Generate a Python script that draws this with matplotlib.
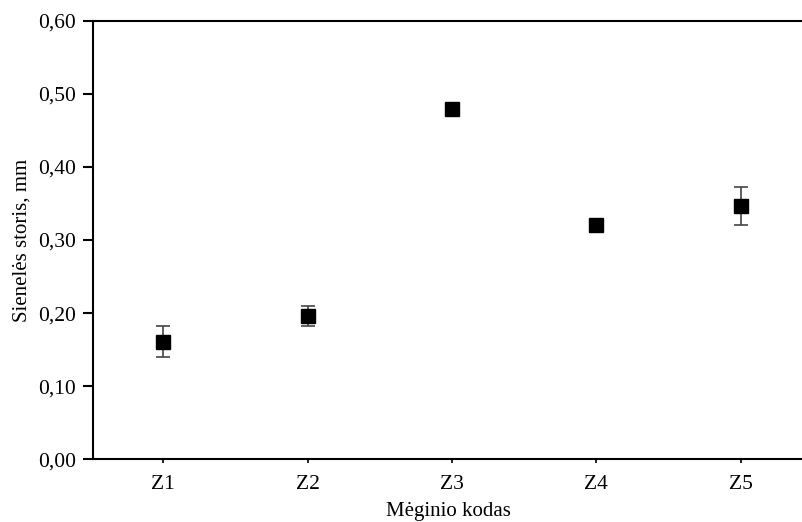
import matplotlib.pyplot as plt
from matplotlib.ticker import FuncFormatter

codes = ['Z1', 'Z2', 'Z3', 'Z4', 'Z5']
thickness = [0.161, 0.196, 0.479, 0.320, 0.347]
errors = [0.021, 0.0135, 0.004, 0.003, 0.026]
yticks = [0.0, 0.1, 0.2, 0.3, 0.4, 0.5, 0.6]

plt.rcParams['font.family'] = ['Liberation Serif', 'DejaVu Serif']

fig = plt.figure(figsize=(8.03, 5.22), dpi=100)
ax = fig.add_axes([93 / 803, 62.7 / 522, (803 - 93) / 803, (459.3 - 20.7) / 522])

x = list(range(1, len(codes) + 1))
ax.errorbar(x, thickness, yerr=errors, fmt='s', color='black', ecolor='#444444',
            markersize=9.5, capsize=5, elinewidth=1.2, capthick=1.2, zorder=3)

ax.set_xlim(0.515, 5.43)
ax.set_ylim(0, 0.6)
ax.set_xticks(x)
ax.set_xticklabels(codes)
ax.set_yticks(yticks)
ax.yaxis.set_major_formatter(FuncFormatter(lambda v, p: f'{v:.2f}'.replace('.', ',')))

ax.spines['right'].set_visible(False)
for s in ['left', 'bottom', 'top']:
    ax.spines[s].set_linewidth(1.5)
ax.tick_params(axis='y', direction='out', length=7, width=1.5, labelsize=15.5, pad=5)
ax.tick_params(axis='x', direction='out', length=3, width=1.2, labelsize=15.5, pad=8)

ax.set_xlabel('Mėginio kodas', fontsize=15, labelpad=6)
ax.set_ylabel('Sienelės storis, mm', fontsize=15, labelpad=5)

fig.savefig('out.png', dpi=100)
